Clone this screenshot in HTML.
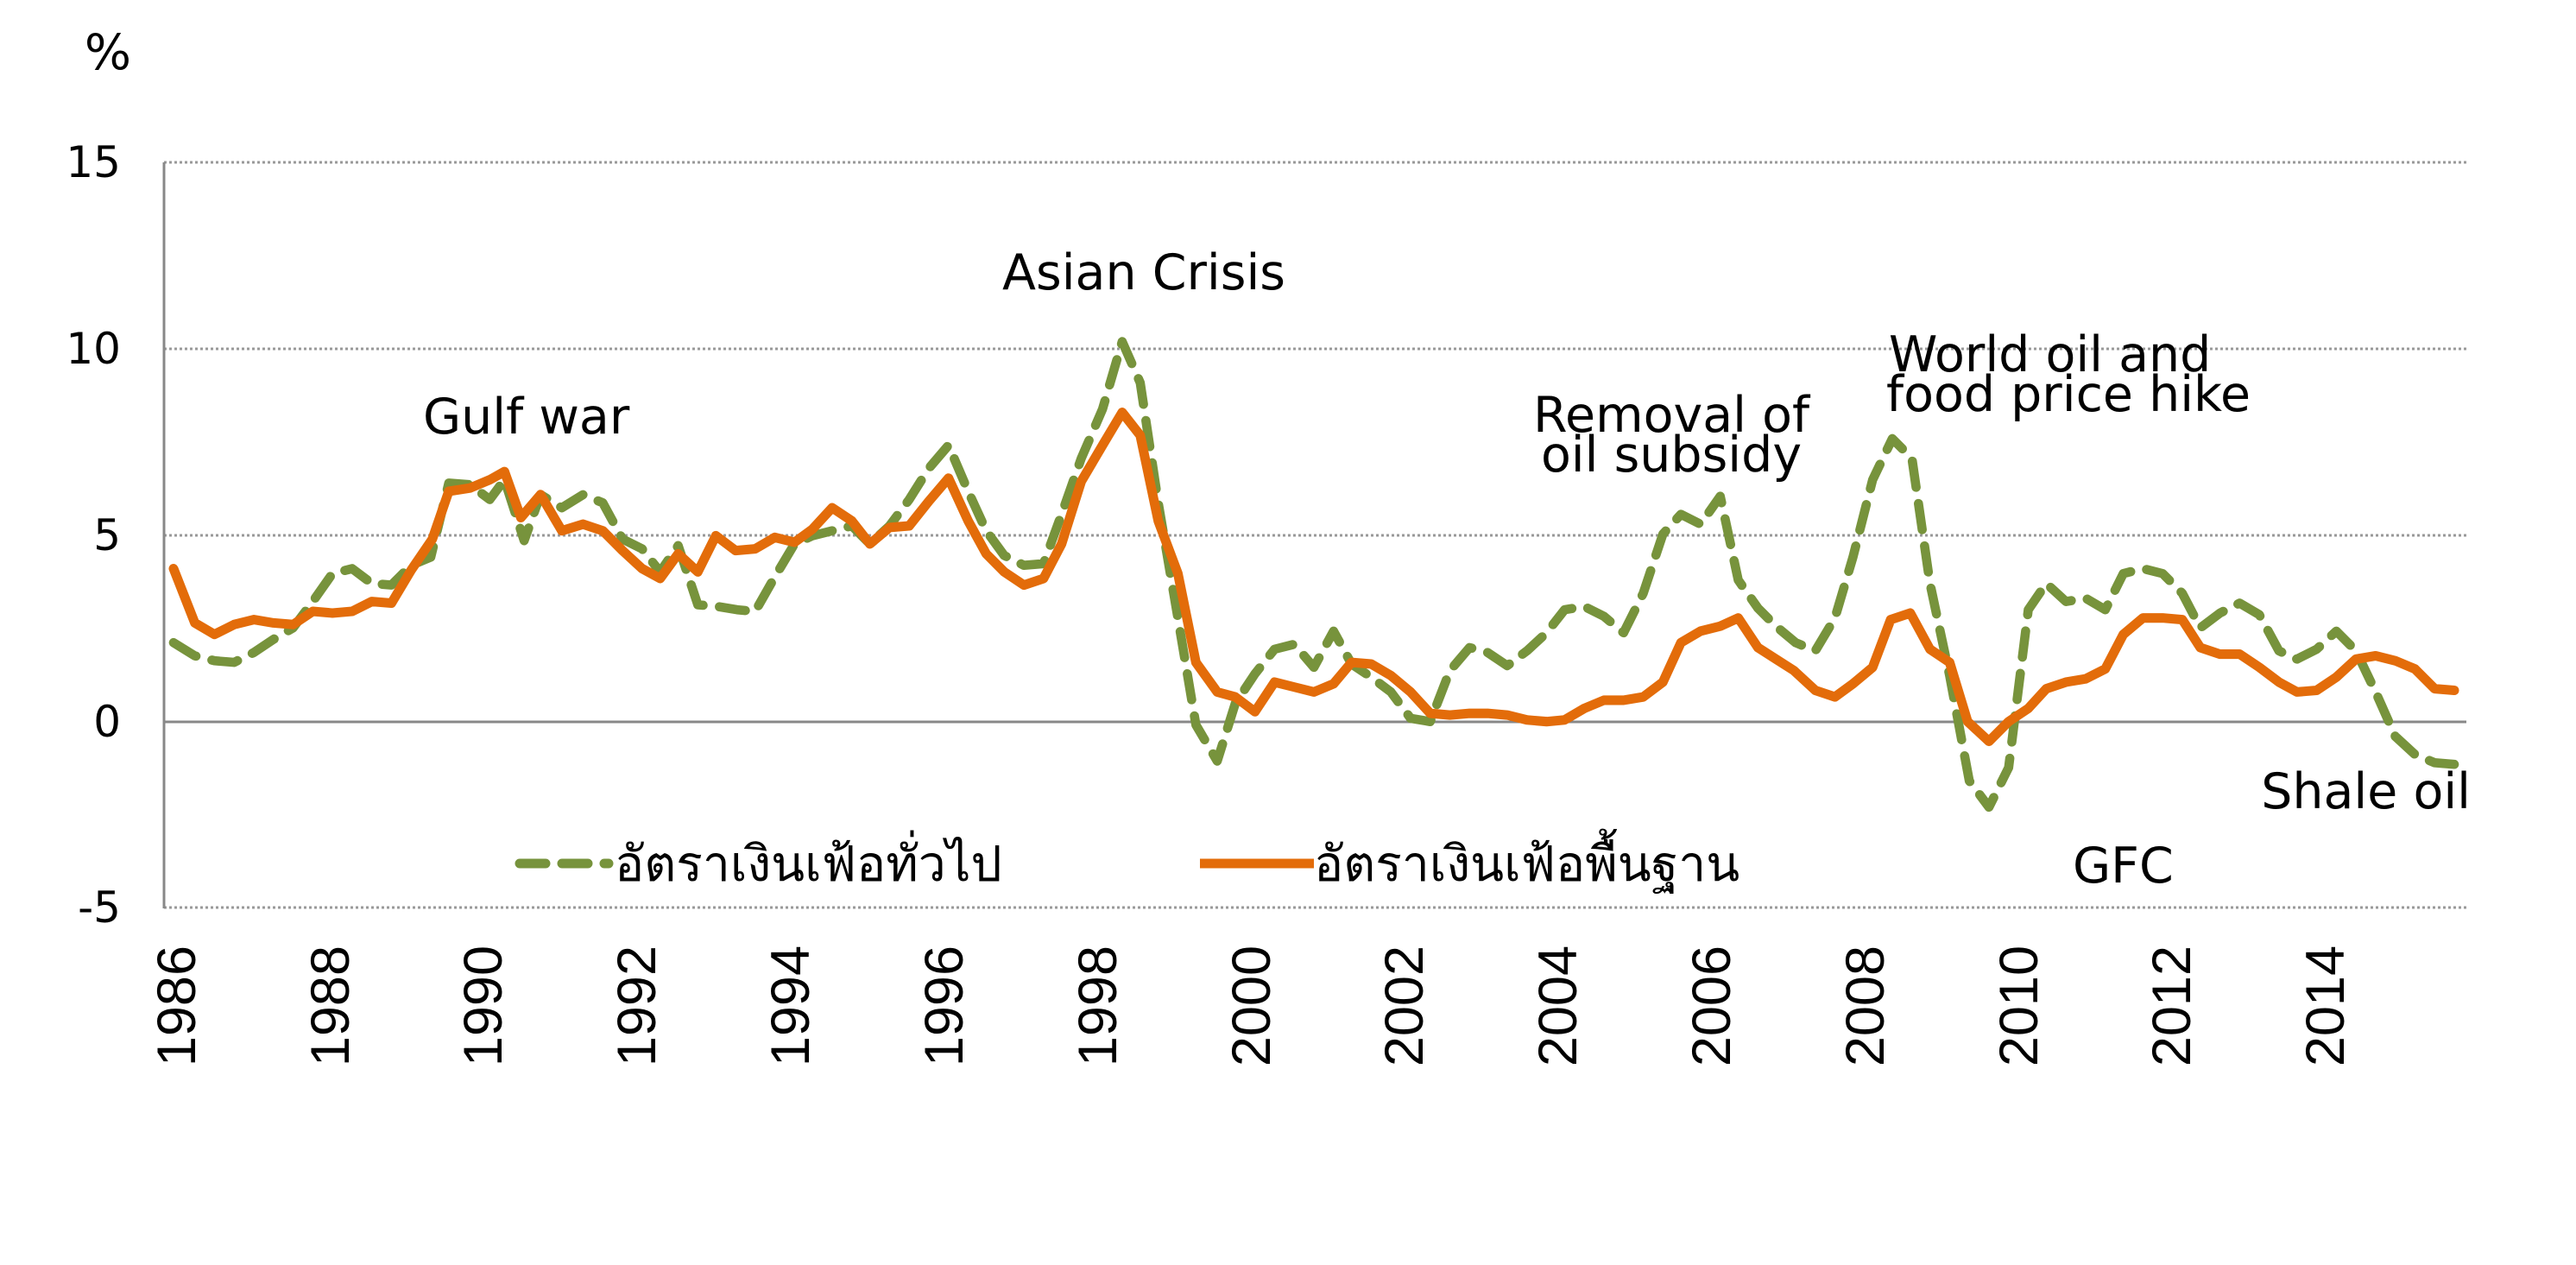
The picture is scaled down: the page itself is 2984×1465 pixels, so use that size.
<!DOCTYPE html>
<html><head><meta charset="utf-8"><style>
html,body{margin:0;padding:0;background:#fff;width:2984px;height:1465px;overflow:hidden}
svg{display:block}
.ann{font-family:"DejaVu Sans","Liberation Sans",sans-serif;font-size:57px;fill:#000}
.yt{font-family:"DejaVu Sans","Liberation Sans",sans-serif;font-size:50px;fill:#000}
.xt{font-family:"Liberation Sans",sans-serif;font-size:63px;fill:#000}
.lg{font-family:"DejaVu Sans","Noto Sans CJK SC",sans-serif;font-size:57px;fill:#000}
</style></head><body>
<svg width="2984" height="1465" viewBox="0 0 2984 1465" xmlns="http://www.w3.org/2000/svg">
<g stroke="#999" stroke-width="3" stroke-dasharray="3 3">
<line x1="190" y1="188" x2="2857" y2="188"/>
<line x1="190" y1="404" x2="2857" y2="404"/>
<line x1="190" y1="620" x2="2857" y2="620"/>
<line x1="190" y1="1051" x2="2857" y2="1051"/>
</g>
<line x1="190" y1="836" x2="2857" y2="836" stroke="#888" stroke-width="3"/>
<line x1="190" y1="188" x2="190" y2="1052" stroke="#888" stroke-width="3"/>
<text class="ann" x="125" y="80" text-anchor="middle">%</text>
<g class="yt" text-anchor="end">
<text x="140" y="205">15</text><text x="140" y="421">10</text><text x="140" y="637">5</text><text x="140" y="853">0</text><text x="140" y="1068">-5</text>
</g>
<g class="xt" text-anchor="end">
<text transform="translate(226,1095) rotate(-90)">1986</text>
<text transform="translate(404,1095) rotate(-90)">1988</text>
<text transform="translate(581,1095) rotate(-90)">1990</text>
<text transform="translate(759,1095) rotate(-90)">1992</text>
<text transform="translate(937,1095) rotate(-90)">1994</text>
<text transform="translate(1115,1095) rotate(-90)">1996</text>
<text transform="translate(1293,1095) rotate(-90)">1998</text>
<text transform="translate(1471,1095) rotate(-90)">2000</text>
<text transform="translate(1648,1095) rotate(-90)">2002</text>
<text transform="translate(1826,1095) rotate(-90)">2004</text>
<text transform="translate(2004,1095) rotate(-90)">2006</text>
<text transform="translate(2182,1095) rotate(-90)">2008</text>
<text transform="translate(2360,1095) rotate(-90)">2010</text>
<text transform="translate(2537,1095) rotate(-90)">2012</text>
<text transform="translate(2715,1095) rotate(-90)">2014</text>
</g>
<g transform="translate(3.6,1.3) scale(1.898,1.905)" fill="none" stroke-linejoin="round">
<polyline stroke="#77933C" stroke-width="5.6" stroke-dasharray="16 10" stroke-linecap="round" points="104,390 117,398 129,401 141,402 153,396 165,388 177,381 189,365 201,348 213,345 225,354 237,355 249,343 261,338 272,293 285,294 297,303 306,291 318,328 328,300 341,308 354,300 366,305 378,327 390,333 401,347 412,331 424,367 436,368 448,370 459,371 471,350 483,330 494,325 506,322 518,319 529,330 541,319 553,303 565,284 577,270 589,298 600,322 611,337 623,343 635,342 646,312 658,278 671,248 683,207 694,232 705,305 717,375 728,440 741,462 752,427 764,409 776,394 788,391 800,405 812,383 823,403 835,411 847,420 859,436 871,438 883,407 895,393 906,396 918,404 930,395 942,384 953,370 965,368 977,374 989,384 1001,360 1013,324 1024,312 1036,318 1048,301 1059,352 1071,369 1082,380 1094,390 1106,395 1118,375 1129,338 1141,291 1153,266 1165,278 1176,354 1188,410 1200,474 1212,490 1224,466 1236,370 1247,354 1259,365 1271,363 1283,370 1294,348 1306,345 1318,348 1330,360 1341,381 1353,372 1365,366 1377,373 1389,395 1400,400 1412,394 1424,383 1436,395 1448,420 1460,447 1472,458 1484,463 1496,464"/>
<polyline stroke="#E36C0A" stroke-width="5.8" stroke-linecap="round" points="104,345 117,378 129,385 141,379 153,376 165,378 177,379 189,371 201,372 213,371 225,365 237,366 249,346 262,327 272,298 285,296 297,291 306,286 316,314 328,300 341,322 354,318 366,322 378,334 390,345 401,351 412,336 424,347 435,325 447,334 459,333 471,326 483,329 494,321 506,308 518,316 529,330 541,320 553,319 565,304 577,290 589,316 600,336 611,347 623,355 635,351 646,330 658,292 671,270 683,250 694,264 705,316 717,348 728,402 741,420 752,423 764,432 776,414 788,417 800,420 812,415 823,402 835,403 847,410 859,420 871,433 883,434 895,433 906,433 918,434 930,437 942,438 953,437 965,430 977,425 989,425 1001,423 1013,414 1024,390 1036,383 1048,380 1059,375 1071,393 1082,400 1093,407 1106,419 1118,423 1129,415 1141,405 1152,376 1164,372 1176,394 1188,402 1199,438 1212,450 1224,438 1236,430 1247,418 1259,414 1271,412 1283,406 1294,385 1306,375 1318,375 1330,376 1341,393 1353,397 1365,397 1377,405 1389,414 1400,420 1412,419 1424,411 1436,400 1448,398 1460,401 1472,406 1484,418 1496,419"/>
</g>
<line x1="602" y1="1000" x2="705" y2="1000" stroke="#77933C" stroke-width="11" stroke-dasharray="30 19" stroke-linecap="round"/>
<text class="lg" x="712" y="1020">อัตราเงินเฟ้อทั่วไป</text>
<line x1="1390" y1="1000" x2="1522" y2="1000" stroke="#E36C0A" stroke-width="11"/>
<text class="lg" x="1522" y="1020">อัตราเงินเฟ้อพื้นฐาน</text>
<text class="ann" x="490" y="502">Gulf war</text>
<text class="ann" x="1161" y="335">Asian Crisis</text>
<text class="ann" x="1936" y="500" text-anchor="middle">Removal of</text>
<text class="ann" x="1936" y="546" text-anchor="middle">oil subsidy</text>
<text class="ann" x="2188" y="430">World oil and</text>
<text class="ann" x="2185" y="476">food price hike</text>
<text class="ann" x="2401" y="1022">GFC</text>
<text class="ann" x="2862" y="936" text-anchor="end">Shale oil</text>
</svg>
</body></html>
